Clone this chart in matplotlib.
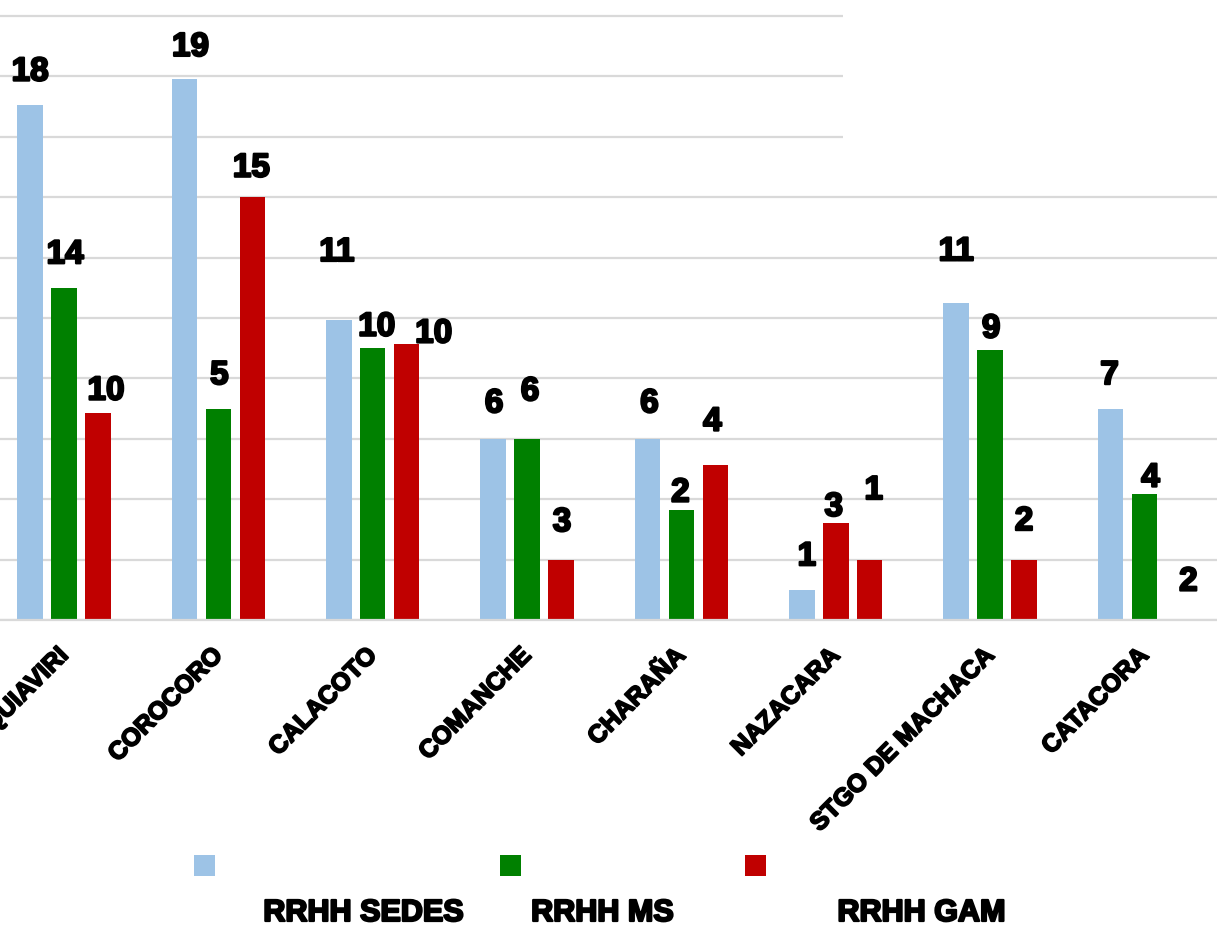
import matplotlib.pyplot as plt
import matplotlib.patheffects as pe
from matplotlib.patches import Rectangle
import numpy as np

plt.rcParams['font.family'] = ['Liberation Sans', 'DejaVu Sans']
plt.rcParams['font.weight'] = 'bold'

# data (bar heights, grid step = 2)
municipios = ["CAQUIAVIRI", "COROCORO", "CALACOTO", "COMANCHE", "CHARAÑA",
              "NAZACARA", "STGO DE MACHACA", "CATACORA"]
sedes = [17.05, 17.9, 9.95, 6.0, 6.0, 1.0, 10.5, 7.0]
ms = [11.0, 7.0, 9.0, 6.0, 3.64, 3.2, 8.94, 4.17]
gam = [6.85, 14.0, 9.14, 2.0, 5.13, 2.0, 2.0, 0.0]

# numbers written above the bars
lbl_sedes = ["18", "19", "11", "6", "6", "1", "11", "7"]
lbl_ms = ["14", "5", "10", "6", "2", "3", "9", "4"]
lbl_gam = ["10", "15", "10", "3", "4", "1", "2", "2"]

c_sedes = "#9DC3E6"
c_ms = "#008000"
c_gam = "#C00000"
ms_colors = [c_ms, c_ms, c_ms, c_ms, c_ms, c_gam, c_ms, c_ms]

# label offsets (pixels: dx, dy above bar top)
off_sedes = [(0, 33), (6, 32), (-2, 67), (1, 35), (2, 35), (5, 33), (0, 51), (-1, 33)]
off_ms = [(1, 33), (1, 33), (4, 21), (3, 47), (-1, 17), (-2, 16), (1, 21), (6, 16)]
off_gam = [(8, 22), (-1, 29), (27, 10), (1, 37), (-3, 43), (4, 69), (0, 38), (10, 38)]

heavy = [pe.withStroke(linewidth=1.6, foreground="black")]

fig = plt.figure(figsize=(12.17, 9.27), dpi=100)
ax = fig.add_axes([0, 307 / 927, 1, 620 / 927])

x = np.arange(len(municipios))
w = 0.165
b1 = ax.bar(x - 0.22, sedes, w, color=c_sedes, zorder=2)
b2 = ax.bar(x, ms, w, color=ms_colors, zorder=2)
b3 = ax.bar(x + 0.22, gam, w, color=c_gam, zorder=2)

px = 0.72  # pixel -> points
for bars, labels, offs in [(b1, lbl_sedes, off_sedes), (b2, lbl_ms, off_ms), (b3, lbl_gam, off_gam)]:
    for bar, lab, (dx, dy) in zip(bars, labels, offs):
        ax.annotate(lab, (bar.get_x() + bar.get_width() / 2, bar.get_height()),
                    xytext=(dx * px, dy * px), textcoords="offset points",
                    ha="center", va="center", fontsize=24, fontweight="bold",
                    color="black", zorder=4, path_effects=heavy)

ax.set_xlim(-0.415, 7.47)
ax.set_ylim(0, 20.53)
ax.set_yticks(np.arange(0, 21, 2))
ax.yaxis.grid(True, color="#D9D9D9", linewidth=1.6)
ax.set_axisbelow(True)
ax.tick_params(axis="y", left=False, labelleft=False)
ax.tick_params(axis="x", length=0, pad=23)
ax.set_xticks(x)
ax.set_xticklabels(municipios, rotation=45, ha="right", va="center",
                   rotation_mode="anchor", fontsize=18, fontweight="bold")
for t in ax.get_xticklabels():
    t.set_path_effects([pe.withStroke(linewidth=1.3, foreground="black")])
for s in ["top", "right", "left"]:
    ax.spines[s].set_visible(False)
ax.spines["bottom"].set_color("#D9D9D9")
ax.spines["bottom"].set_linewidth(1.6)

# white block covering top right grid lines
ax.add_patch(Rectangle((843 / 1217, 1 - 165 / 620), 1, 1, transform=ax.transAxes,
                       facecolor="white", edgecolor="none", zorder=1))

# legend, drawn by hand
for xs, col in [(194, c_sedes), (500, c_ms), (745, c_gam)]:
    fig.add_artist(Rectangle((xs / 1217, 1 - 876 / 927), 21 / 1217, 21 / 927,
                             transform=fig.transFigure, facecolor=col, edgecolor="none"))
for xc, txt in [(363, "RRHH SEDES"), (602, "RRHH MS"), (921, "RRHH GAM")]:
    fig.text(xc / 1217, 1 - 913 / 927, txt, ha="center", va="center",
             fontsize=22, fontweight="bold", path_effects=heavy)

plt.savefig("out.png", dpi=100)
